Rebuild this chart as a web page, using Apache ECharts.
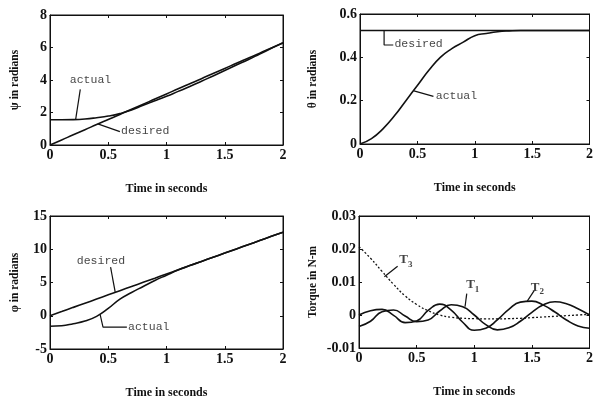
<!DOCTYPE html>
<html>
<head>
<meta charset="utf-8">
<script src="https://cdn.jsdelivr.net/npm/echarts@6/dist/echarts.min.js"></script>
<style>
  html, body { margin: 0; padding: 0; background: #fff; }
  #main { width: 596px; height: 401px; }
</style>
</head>
<body>
<div id="main"></div>
<script>
// time samples, seconds
var time = [0, 0.1, 0.2, 0.3, 0.4, 0.5, 0.6, 0.7, 0.8, 0.9, 1.0,
            1.1, 1.2, 1.3, 1.4, 1.5, 1.6, 1.7, 1.8, 1.9, 2.0];

// psi (top left)
var psiDesired = [0, 0.31, 0.63, 0.94, 1.26, 1.57, 1.88, 2.2, 2.51, 2.83, 3.14,
                  3.46, 3.77, 4.08, 4.4, 4.71, 5.03, 5.34, 5.65, 5.97, 6.28];
var psiActual = [1.55, 1.55, 1.56, 1.6, 1.68, 1.78, 1.93, 2.15, 2.45, 2.72, 3.0,
                 3.3, 3.6, 3.92, 4.25, 4.58, 4.92, 5.25, 5.6, 5.95, 6.3];

// theta (top right)
var thetaDesired = [0.524, 0.524, 0.524, 0.524, 0.524, 0.524, 0.524, 0.524, 0.524, 0.524, 0.524,
                    0.524, 0.524, 0.524, 0.524, 0.524, 0.524, 0.524, 0.524, 0.524, 0.524];
var thetaActual = [0, 0.025, 0.07, 0.13, 0.2, 0.27, 0.34, 0.4, 0.44, 0.47, 0.5,
                   0.51, 0.518, 0.522, 0.524, 0.524, 0.524, 0.524, 0.524, 0.524, 0.524];

// phi (bottom left)
var phiDesired = [0, 0.63, 1.26, 1.88, 2.51, 3.14, 3.77, 4.4, 5.03, 5.65, 6.28,
                  6.91, 7.54, 8.17, 8.8, 9.42, 10.05, 10.68, 11.31, 11.94, 12.57];
var phiActual = [-1.57, -1.5, -1.2, -0.8, -0.1, 1.1, 2.5, 3.5, 4.4, 5.3, 6.1,
                 6.88, 7.54, 8.17, 8.8, 9.42, 10.05, 10.68, 11.31, 11.94, 12.57];

// torques (bottom right)
var torqueT1 = [-0.0035, -0.0019, 0.001, 0.0015, -0.0003, -0.002, -0.0015, 0.0012, 0.0031, 0.0025, 0.0,
                -0.0029, -0.0045, -0.0039, -0.0019, 0.0008, 0.0031, 0.004, 0.0034, 0.0019, 0.0];
var torqueT2 = [0, 0.0013, 0.0017, -0.0001, -0.0023, -0.0018, 0.0014, 0.0033, 0.0015, -0.0022, -0.0046,
                -0.004, -0.0015, 0.0017, 0.0039, 0.0042, 0.003, 0.0009, -0.0015, -0.0033, -0.004];
var torqueT3 = [0.0207, 0.0172, 0.0132, 0.0093, 0.0058, 0.0032, 0.0013, 0.0, -0.0007, -0.001, -0.0011,
                -0.0012, -0.0012, -0.0011, -0.001, -0.0008, -0.0006, -0.0004, -0.0002, 0.0, 0.0002];

// y axis ranges per panel: [min, max, interval]
var yRanges = [[0, 8, 2], [0, 0.6, 0.2], [-5, 15, 5], [-0.01, 0.03, 0.01]];
var yNames = ['\u03c8 in radians', '\u03b8 in radians', '\u03c6 in radians', 'Torque in N-m'];
var xName = 'Time in seconds';

var grids = [
    { left: 50, top: 15, width: 233, height: 130 },
    { left: 360, top: 14, width: 234, height: 130 },
    { left: 50, top: 216, width: 233, height: 133 },
    { left: 359, top: 216, width: 234, height: 132 }
];
var yNameGaps = [29, 41, 29, 40];

var serif = 'Liberation Serif';
var mono = 'Liberation Mono';
var ink = '#111';

function pairs(ys) {
    return time.map(function (t, k) { return [t, ys[k]]; });
}

var xAxes = [], yAxes = [], series = [];
grids.forEach(function (g, i) {
    g.show = true;
    g.borderColor = ink;
    g.borderWidth = 1;
    xAxes.push({
        gridIndex: i, type: 'value', min: 0, max: 2, interval: 0.5,
        name: xName, nameLocation: 'middle', nameGap: 38,
        nameTextStyle: { fontFamily: serif, fontWeight: 'bold', fontSize: 12, color: ink },
        axisLine: { onZero: false, lineStyle: { color: ink } },
        axisTick: { inside: true, length: 3, lineStyle: { color: ink } },
        axisLabel: { fontFamily: serif, fontWeight: 'bold', fontSize: 14, color: ink, margin: 3 },
        splitLine: { show: false }
    });
    xAxes.push({
        gridIndex: i, type: 'value', min: 0, max: 2, interval: 0.5, position: 'top',
        axisLine: { onZero: false, lineStyle: { color: ink } },
        axisTick: { inside: true, length: 3, lineStyle: { color: ink } },
        axisLabel: { show: false }, splitLine: { show: false }
    });
    var r = yRanges[i];
    yAxes.push({
        gridIndex: i, type: 'value', min: r[0], max: r[1], interval: r[2],
        name: yNames[i], nameLocation: 'middle', nameGap: yNameGaps[i],
        nameTextStyle: { fontFamily: serif, fontWeight: 'bold', fontSize: 11.5, color: ink },
        axisLine: { onZero: false, lineStyle: { color: ink } },
        axisTick: { inside: true, length: 3, lineStyle: { color: ink } },
        axisLabel: { fontFamily: serif, fontWeight: 'bold', fontSize: 14, color: ink, margin: 3 },
        splitLine: { show: false }
    });
    yAxes.push({
        gridIndex: i, type: 'value', min: r[0], max: r[1], interval: r[2], position: 'right',
        axisLine: { onZero: false, lineStyle: { color: ink } },
        axisTick: { inside: true, length: 3, lineStyle: { color: ink } },
        axisLabel: { show: false }, splitLine: { show: false }
    });
});

function curve(i, ys, dotted) {
    series.push({
        type: 'line', xAxisIndex: 2 * i, yAxisIndex: 2 * i,
        data: pairs(ys), smooth: true, symbol: 'none', silent: true,
        lineStyle: { color: ink, width: dotted ? 1.3 : 1.6, type: dotted ? [2, 2] : 'solid' }
    });
}
function leader(i, pts) {
    series.push({
        type: 'line', xAxisIndex: 2 * i, yAxisIndex: 2 * i,
        data: pts, symbol: 'none', silent: true,
        lineStyle: { color: ink, width: 1.2 }
    });
}
function note(i, pt, text) {
    series.push({
        type: 'scatter', xAxisIndex: 2 * i, yAxisIndex: 2 * i,
        data: [pt], symbolSize: 0, silent: true,
        label: {
            show: true, position: [0, 0], align: 'left', verticalAlign: 'middle',
            formatter: text,
            fontFamily: mono, fontSize: 11.5, color: ink,
            rich: {
                m: { fontFamily: serif, fontWeight: 'bold', fontSize: 13, color: ink },
                s: { fontFamily: serif, fontWeight: 'bold', fontSize: 9, color: ink, padding: [9, 0, 0, 0] }
            }
        }
    });
}

curve(0, psiDesired); curve(0, psiActual);
curve(1, thetaDesired); curve(1, thetaActual);
curve(2, phiDesired); curve(2, phiActual);
curve(3, torqueT1); curve(3, torqueT2); curve(3, torqueT3, true);

// annotations
leader(0, [[0.22, 1.56], [0.26, 3.42]]);
note(0, [0.17, 4.0], 'actual');
leader(0, [[0.41, 1.3], [0.6, 0.82]]);
note(0, [0.61, 0.84], 'desired');

leader(1, [[0.21, 0.524], [0.21, 0.457], [0.29, 0.457]]);
note(1, [0.3, 0.462], 'desired');
leader(1, [[0.47, 0.245], [0.64, 0.22]]);
note(1, [0.66, 0.224], 'actual');

leader(2, [[0.56, 3.52], [0.52, 7.3]]);
note(2, [0.23, 8.2], 'desired');
leader(2, [[0.43, 0.2], [0.455, -1.7], [0.66, -1.7]]);
note(2, [0.67, -1.7], 'actual');

leader(3, [[0.22, 0.0116], [0.335, 0.0148]]);
note(3, [0.35, 0.0167], '{m|T}{s|3}');
leader(3, [[0.92, 0.0025], [0.935, 0.0065]]);
note(3, [0.93, 0.0091], '{m|T}{s|1}');
leader(3, [[1.46, 0.0042], [1.52, 0.0074]]);
note(3, [1.49, 0.0084], '{m|T}{s|2}');

var chart = echarts.init(document.getElementById('main'));
chart.setOption({
    backgroundColor: '#fff',
    animation: false,
    grid: grids,
    xAxis: xAxes,
    yAxis: yAxes,
    series: series
});
</script>
</body>
</html>
